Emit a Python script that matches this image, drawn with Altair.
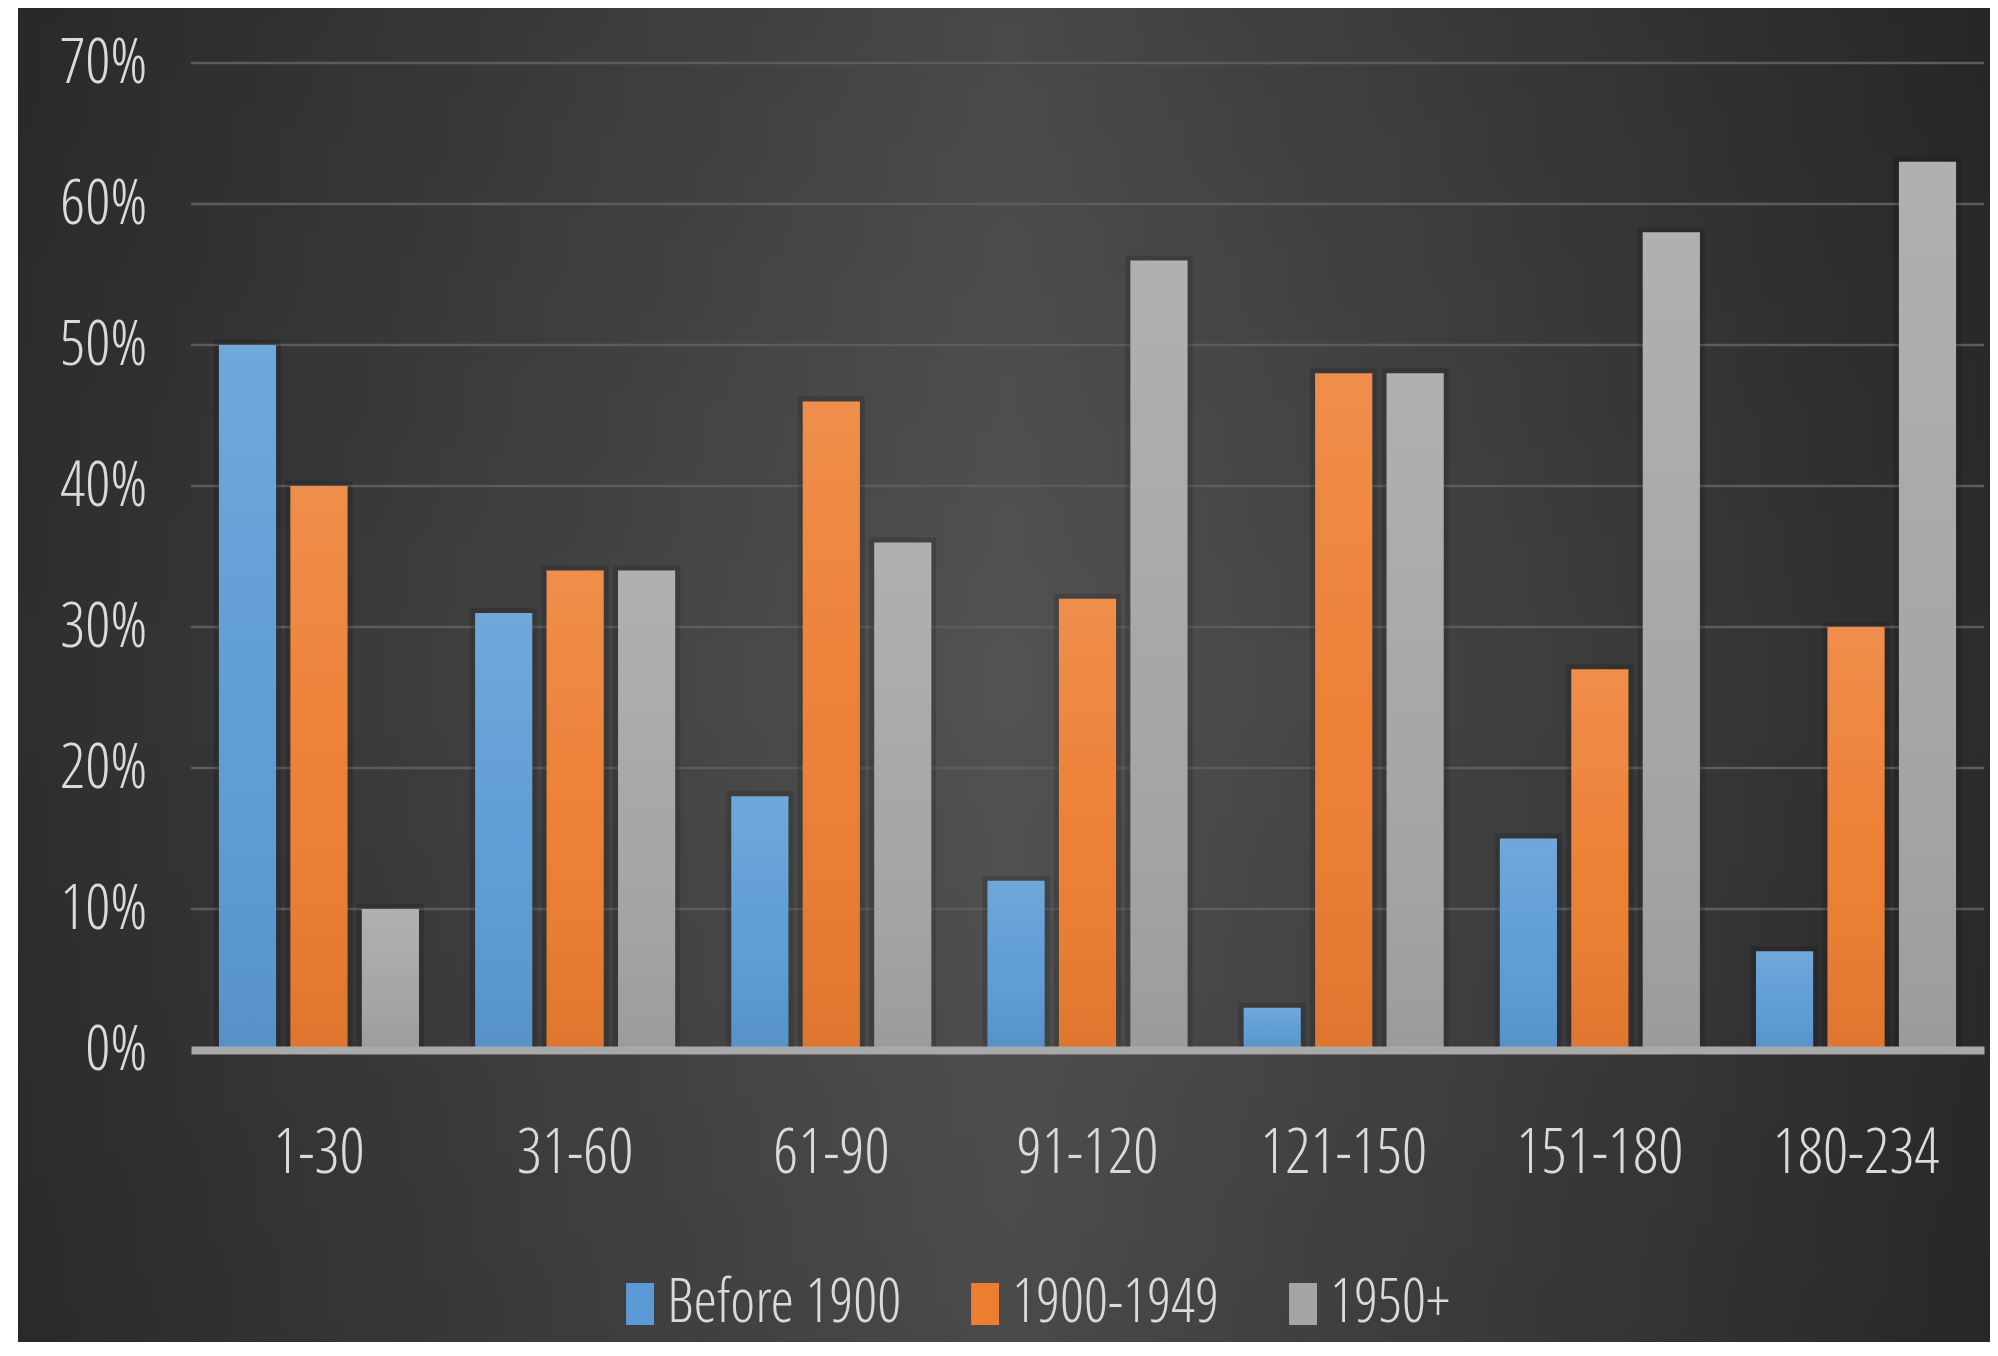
import altair as alt
import pandas as pd

# ---- data ----
categories = ["1-30", "31-60", "61-90", "91-120", "121-150", "151-180", "180-234"]
series_names = ["Before 1900", "1900-1949", "1950+"]
before_1900 = [0.50, 0.31, 0.18, 0.12, 0.03, 0.15, 0.07]
from_1900_to_1949 = [0.40, 0.34, 0.46, 0.32, 0.48, 0.27, 0.30]
from_1950 = [0.10, 0.34, 0.36, 0.56, 0.48, 0.58, 0.63]
y_tick_values = [0.0, 0.1, 0.2, 0.3, 0.4, 0.5, 0.6, 0.7]
series_colors = ["#5b9bd5", "#ed7d31", "#a5a5a5"]

rows = []
for name, vals in zip(series_names, [before_1900, from_1900_to_1949, from_1950]):
    for cat, v in zip(categories, vals):
        rows.append({"range": cat, "period": name, "share": v})
df = pd.DataFrame(rows)
grid_df = pd.DataFrame({"share": y_tick_values[1:]})
one_df = pd.DataFrame({"k": [0]})

FONT = "Open Sans Condensed Light, Open Sans Condensed, Liberation Sans Narrow, Roboto Condensed, Lato"
FS = 63
LEG_FS = 60
TXT = "#dadada"
W, H = 1793, 987

x_enc = alt.X(
    "range:N", sort=categories,
    scale=alt.Scale(paddingInner=0.219, paddingOuter=0.109),
    axis=alt.Axis(title=None, labelFont=FONT, labelFontSize=FS, labelFontWeight=300,
                  labelColor=TXT, labelPadding=72, labelAngle=0, ticks=False,
                  domain=True, domainColor="#a9a9a9", domainWidth=8, grid=False,
                  labelOverlap=False, labelLimit=0, zindex=1),
)
xo_enc = alt.XOffset("period:N", sort=series_names,
                     scale=alt.Scale(paddingInner=0.2, paddingOuter=0))
y_axis = alt.Axis(values=y_tick_values, format=".0%", title=None, grid=False,
                  domain=False, ticks=False, labelFont=FONT, labelFontSize=FS,
                  labelFontWeight=300, labelColor=TXT, labelPadding=44,
                  labelOverlap=False, labelLimit=0, zindex=1)
y_scale = alt.Scale(domain=[0, 0.7], nice=False, zero=True)
y_enc = alt.Y("share:Q", scale=y_scale, axis=y_axis)

# background: horizontal dark-light-dark gradient + vertical darkening
bg_h = alt.Chart(one_df).mark_rect(
    color=alt.LinearGradient(
        gradient="linear", x1=0, x2=1, y1=0, y2=0,
        stops=[alt.GradientStop(color="#2e2e2e", offset=0),
               alt.GradientStop(color="#404040", offset=0.25),
               alt.GradientStop(color="#525252", offset=0.5),
               alt.GradientStop(color="#3f3f3f", offset=0.75),
               alt.GradientStop(color="#2b2b2b", offset=1)])
).encode(x=alt.value(-173), x2=alt.value(1807), y=alt.value(-63), y2=alt.value(1293))

bg_v = alt.Chart(one_df).mark_rect(
    color=alt.LinearGradient(
        gradient="linear", x1=0, x2=0, y1=0, y2=1,
        stops=[alt.GradientStop(color="rgba(0,0,0,0.12)", offset=0),
               alt.GradientStop(color="rgba(0,0,0,0)", offset=0.5),
               alt.GradientStop(color="rgba(0,0,0,0.1)", offset=1)])
).encode(x=alt.value(-173), x2=alt.value(1807), y=alt.value(-63), y2=alt.value(1293))

grid = alt.Chart(grid_df).mark_rule(color="#5c5c5c", strokeWidth=2.5).encode(y=y_enc)

base = alt.Chart(df)

shadow = base.mark_bar(fillOpacity=0, stroke="black", strokeWidth=10,
                       strokeOpacity=0.14, strokeJoin="miter").encode(
    x=x_enc, xOffset=xo_enc, y=y_enc)

bars = base.mark_bar().encode(
    x=x_enc, xOffset=xo_enc, y=y_enc,
    color=alt.Color(
        "period:N", sort=series_names,
        scale=alt.Scale(domain=series_names, range=series_colors),
        legend=alt.Legend(
            orient="none", legendX=416, legendY=1211, direction="horizontal",
            title=None, symbolType="M-0.52,-1H0.81V1H-0.52Z", symbolSize=1764,
            symbolStrokeWidth=0, symbolOpacity=1, labelFont=FONT, labelFontSize=LEG_FS,
            labelFontWeight=300, labelColor=TXT, labelOffset=0, columnPadding=50,
            padding=0, labelLimit=0),
    ),
)

shine = base.mark_bar(
    color=alt.LinearGradient(
        gradient="linear", x1=0, x2=0, y1=0, y2=1,
        stops=[alt.GradientStop(color="rgba(255,255,255,0.13)", offset=0),
               alt.GradientStop(color="rgba(255,255,255,0.03)", offset=0.5),
               alt.GradientStop(color="rgba(0,0,0,0.06)", offset=1)])
).encode(x=x_enc, xOffset=xo_enc, y=y_enc)

chart = alt.layer(bg_h, bg_v, grid, shadow, bars, shine).properties(
    width=W, height=H,
    padding={"left": 183, "top": 55, "right": 6, "bottom": 292},
    autosize=alt.AutoSizeParams(type="none"),
).configure_view(stroke=None).configure(background="white")

chart.save("out.html", embed_options={"renderer": "svg", "actions": False})
